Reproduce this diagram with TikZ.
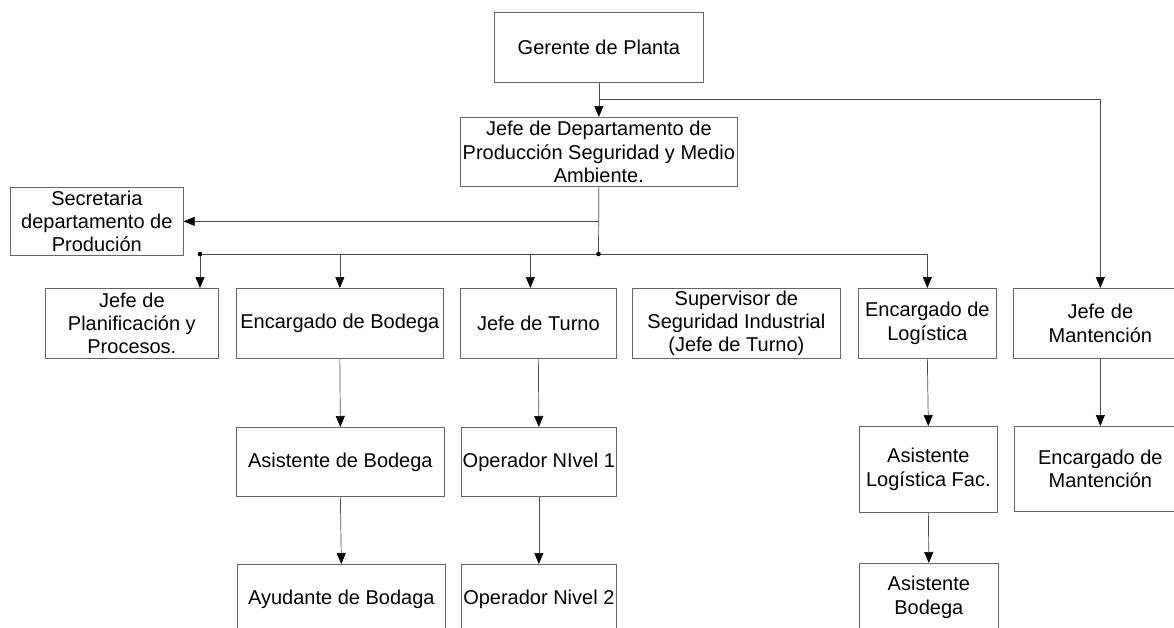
\documentclass[tikz,border=0pt]{standalone}
\usepackage{fontspec}
\setmainfont{Liberation Sans}
\usetikzlibrary{arrows.meta}
\begin{document}
\begin{tikzpicture}[x=1pt,y=-1pt,
  box/.style={draw=black!60, line width=0.7pt, rectangle, inner sep=0pt, align=center,
    font=\fontsize{20}{23.3}\selectfont, anchor=north west},
  conn/.style={draw=black!70, line width=0.7pt},
  arr/.style={conn, -{Triangle[width=9pt,length=11pt,color=black]}},
  dotm/.style={fill=black}]
\useasboundingbox (0,0) rectangle (1174,627);
\clip (0,0) rectangle (1174,627);
% top
\node[box, minimum width=209pt, minimum height=70pt] (ger) at (494,12) {Gerente de Planta};
\node[box, minimum width=277pt, minimum height=69pt] (jdp) at (460,117) {Jefe de Departamento de\\Producción Seguridad y Medio\\Ambiente.};
\node[box, minimum width=173pt, minimum height=68pt] (sec) at (10,187) {Secretaria\\departamento de\\Produción};
% row 2
\node[box, minimum width=173pt, minimum height=70pt] (plan) at (45,288) {Jefe de\\Planificación y\\Procesos.};
\node[box, minimum width=207pt, minimum height=70pt] (bod) at (236,288) {Encargado de Bodega};
\node[box, minimum width=156pt, minimum height=70pt] (tur) at (460,288) {Jefe de Turno};
\node[box, minimum width=208pt, minimum height=70pt] (sup) at (632,288) {Supervisor de\\Seguridad Industrial\\(Jefe de Turno)};
\node[box, minimum width=138pt, minimum height=70pt] (log) at (858,288) {Encargado de\\Logística};
\node[box, minimum width=174pt, minimum height=70pt] (man) at (1013,288) {Jefe de\\Mantención};
% row 3
\node[box, minimum width=208pt, minimum height=69pt] (abod) at (236,427) {Asistente de Bodega};
\node[box, minimum width=155pt, minimum height=69pt] (op1) at (461,427) {Operador NIvel 1};
\node[box, minimum width=138pt, minimum height=86pt] (alog) at (859,426) {Asistente\\Logística Fac.};
\node[box, minimum width=172pt, minimum height=85pt] (eman) at (1014,426) {Encargado de\\Mantención};
% row 4
\node[box, minimum width=208pt, minimum height=69pt] (ayu) at (237,564) {Ayudante de Bodaga};
\node[box, minimum width=155pt, minimum height=69pt] (op2) at (461,564) {Operador Nivel 2};
\node[box, minimum width=139pt, minimum height=68pt] (abod2) at (859,563) {Asistente\\Bodega};
% connectors
\coordinate (br) at (598.5,99);
\coordinate (d1) at (200,254);
\coordinate (d2) at (598.5,254);
\draw[arr] (ger.south) -- (jdp.north);
\draw[arr] (br) -| (man.north);
\draw[conn] (jdp.south) -- (d2);
\draw[arr] (jdp.south |- sec.east) -- (sec.east);
\draw[arr] (d1) -| (log.north);
\draw[arr] (d1) -- (d1 |- plan.north);
\draw[arr] (bod.north |- d1) -- (bod.north);
\draw[arr] ([xshift=-8pt]tur.north |- d1) -- ([xshift=-8pt]tur.north);
\draw[arr] (bod.south) -- (abod.north);
\draw[arr] (tur.south) -- (op1.north);
\draw[arr] (log.south) -- (alog.north);
\draw[arr] (man.south) -- (eman.north);
\draw[arr] (abod.south) -- (ayu.north);
\draw[arr] (op1.south) -- (op2.north);
\draw[arr] (alog.south) -- (abod2.north);
\fill[dotm] (d1) circle (2.3pt);
\fill[dotm] (d2) circle (2.3pt);
\end{tikzpicture}
\end{document}
